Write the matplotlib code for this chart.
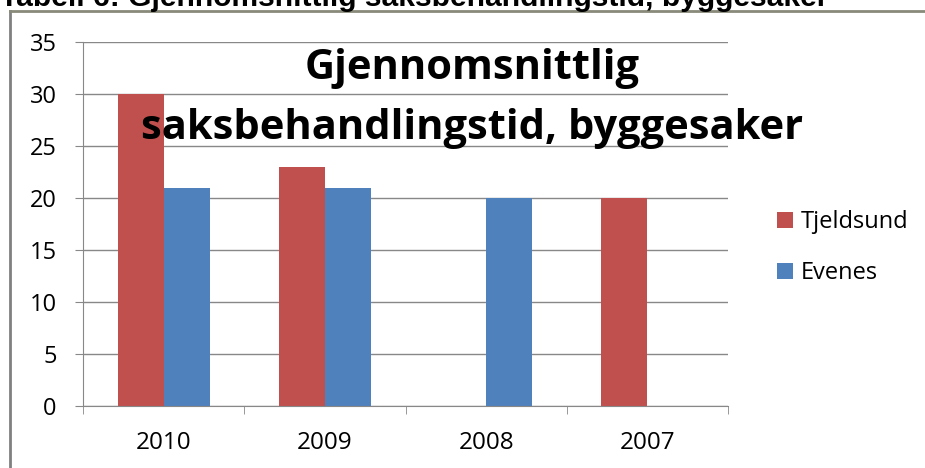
import numpy as np
import matplotlib.pyplot as plt
from matplotlib.lines import Line2D

years = ["2010", "2009", "2008", "2007"]
tjeldsund = [30, 23, 0, 20]
evenes = [21, 21, 20, 0]
series_names = ["Tjeldsund", "Evenes"]
colors = ["#C0504D", "#4F81BD"]

W, H = 925, 468
fig = plt.figure(figsize=(W / 100, H / 100), dpi=100)

# outer gray frame (cut off at right and bottom)
fig.add_artist(Line2D([10 / W, 10 / W], [0, 1 - 11 / H], color="#808080", lw=2))
fig.add_artist(Line2D([10 / W, 1], [1 - 11 / H, 1 - 11 / H], color="#8a8a7a", lw=2))

# caption, partly cut off at the top
fig.text(0, 1 - 6 / H, "Tabell 6: Gjennomsnittlig saksbehandlingstid, byggesaker",
         family="Liberation Sans", weight="bold", fontsize=21.6, va="baseline")

ax = fig.add_axes([83 / W, 1 - 406 / H, (728 - 83) / W, (406 - 42) / H])
x = np.arange(len(years))
w = 1 / 3.5
ax.bar(x - w / 2, tjeldsund, w, color=colors[0], label=series_names[0])
ax.bar(x + w / 2, evenes, w, color=colors[1], label=series_names[1])

ax.set_xlim(-0.5, len(years) - 0.5)
ax.set_ylim(0, 35)
ax.set_yticks(range(0, 36, 5))
ax.set_xticks(x)
ax.set_xticklabels(years)
ax.set_xticks(np.arange(-0.5, len(years), 1), minor=True)
ax.tick_params(axis="x", which="major", length=0, pad=18)
ax.tick_params(axis="x", which="minor", length=6, color="#888888", direction="out")
ax.tick_params(axis="y", length=6, color="#888888", pad=13)
for lab in ax.get_xticklabels():
    lab.set_family("Open Sans")
    lab.set_fontsize(17.5)
for lab in ax.get_yticklabels():
    lab.set_family("Open Sans")
    lab.set_fontsize(17)

ax.grid(axis="y", color="#888888", lw=1)
ax.set_axisbelow(True)
for s in ["top", "right"]:
    ax.spines[s].set_visible(False)
for s in ["left", "bottom"]:
    ax.spines[s].set_color("#888888")

# chart title drawn over the plot area
fig.text(472 / W, 1 - 79 / H, "Gjennomsnittlig", ha="center", va="baseline",
         family="Open Sans", weight="bold", fontsize=30)
fig.text(472 / W, 1 - 139 / H, "saksbehandlingstid, byggesaker", ha="center",
         va="baseline", family="Open Sans", weight="bold", fontsize=30)

fig.legend(loc="upper left", bbox_to_anchor=(756 / W, 1 - 189 / H),
           frameon=False, prop={"family": "Open Sans", "size": 17},
           handlelength=0.65, handleheight=0.65, handletextpad=0.35,
           labelspacing=1.15)

fig.savefig("out.png", dpi=100)
